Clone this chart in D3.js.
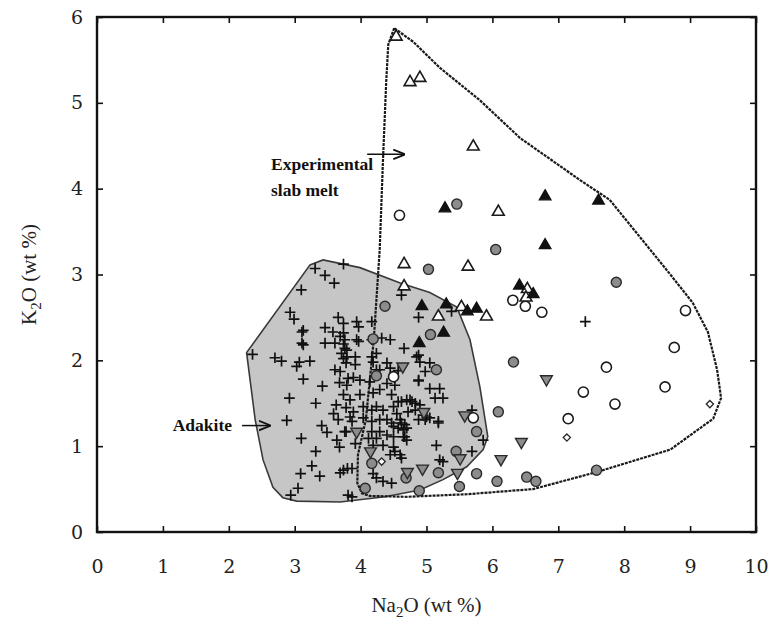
<!DOCTYPE html>
<html>
<head>
<meta charset="utf-8">
<script src="https://cdn.jsdelivr.net/npm/d3@7"></script>
<style>
  body { margin: 0; background: #fff; }
  text { font-family: "Liberation Serif", "DejaVu Serif", serif; }
</style>
</head>
<body>
<script>
// Screen dimensions.
const WIDTH = 772;
const HEIGHT = 622;
const margin = {top: 17, right: 16, bottom: 90, left: 97};

// Axis ticks
const xTicks = [0, 1, 2, 3, 4, 5, 6, 7, 8, 9, 10];
const yTicks = [0, 1, 2, 3, 4, 5, 6];

// Field outlines [Na2O, K2O]
const adakiteOutline = [[3.23,3.11],[3.43,3.17],[3.99,3.08],[4.60,2.90],[5.05,2.79],[5.46,2.62],[5.66,2.24],[5.81,1.69],[5.93,1.11],[5.86,0.96],[5.61,0.76],[5.25,0.61],[4.90,0.49],[4.37,0.41],[3.69,0.35],[3.03,0.36],[2.82,0.40],[2.67,0.52],[2.52,0.84],[2.40,1.31],[2.27,2.09]];
const slabMeltOutline = [[4.51,5.87],[4.42,5.68],[4.39,5.27],[4.34,4.34],[4.29,3.29],[4.20,2.24],[4.08,1.31],[3.96,0.90],[3.95,0.57],[4.02,0.45],[4.14,0.42],[4.70,0.41],[5.61,0.44],[6.62,0.50],[7.59,0.70],[8.70,0.96],[9.35,1.32],[9.47,1.56],[9.41,1.89],[9.27,2.33],[9.04,2.67],[8.70,3.00],[7.78,3.87],[7.33,4.10],[6.42,4.59],[5.81,5.03],[5.20,5.41],[4.80,5.71]];

// Experimental melts
const openTriangles = [[4.54,5.77],[4.75,5.24],[4.90,5.29],[5.71,4.49],[6.09,3.73],[4.66,3.12],[5.63,3.09],[4.66,2.86],[5.53,2.62],[5.18,2.51],[5.91,2.51],[6.53,2.83],[6.51,2.73]];
const blackTriangles = [[5.28,3.77],[6.80,3.91],[6.80,3.34],[6.41,2.87],[6.62,2.77],[4.93,2.63],[5.30,2.65],[5.62,2.57],[5.76,2.60],[7.61,3.86],[5.26,2.32],[4.89,2.20]];
const grayCircles = [[5.46,3.82],[6.05,3.29],[5.03,3.06],[4.37,2.63],[5.06,2.30],[4.19,2.25],[5.15,1.89],[6.32,1.98],[6.09,1.40],[5.76,1.17],[5.45,0.94],[5.18,0.69],[4.69,0.63],[5.76,0.68],[6.07,0.59],[5.50,0.53],[6.52,0.64],[6.66,0.59],[4.89,0.48],[7.58,0.72],[7.88,2.91],[4.24,1.82],[4.17,0.80],[4.07,0.51]];
const openCircles = [[4.59,3.69],[6.31,2.70],[6.50,2.63],[6.75,2.56],[7.38,1.63],[7.15,1.32],[5.71,1.33],[8.93,2.58],[8.76,2.15],[7.73,1.92],[8.62,1.69],[7.86,1.49],[4.50,1.81]];
const grayDownTriangles = [[4.64,1.93],[6.82,1.78],[5.58,1.36],[6.44,1.05],[6.13,0.85],[5.51,0.86],[4.94,0.74],[4.71,0.70],[5.47,0.69],[4.96,1.40],[3.94,1.17],[4.15,0.94]];
const openDiamonds = [[7.13,1.10],[9.30,1.49],[4.32,0.82]];

// Adakites
const adakites = [
  [3.31,3.07],[3.46,2.99],[3.60,2.90],[3.10,2.82],[3.74,3.12],[2.93,2.56],[2.99,2.48],[3.13,2.35],[3.11,2.33],[3.11,2.20],
  [3.13,2.18],[3.66,2.50],[3.74,2.43],[3.46,2.38],[3.58,2.33],[3.69,2.28],[3.46,2.20],[3.61,2.20],[3.74,2.19],[3.71,2.08],
  [3.79,2.12],[2.36,2.07],[2.70,2.03],[2.80,1.99],[3.07,1.98],[3.03,1.93],[3.23,1.99],[3.61,1.89],[3.69,1.87],[3.78,1.97],
  [3.13,1.78],[3.42,1.70],[3.68,1.74],[2.92,1.56],[3.32,1.50],[3.63,1.48],[3.59,1.38],[3.66,1.31],[3.78,1.45],[3.78,1.17],
  [2.88,1.30],[3.41,1.24],[3.49,1.16],[3.64,1.07],[3.68,0.99],[3.10,1.09],[3.32,0.94],[3.26,0.77],[3.38,0.65],[3.09,0.68],
  [3.69,0.69],[3.80,0.74],[3.05,0.51],[2.94,0.43],[3.81,0.43],[3.76,2.24],[3.94,2.24],[3.76,2.14],[3.79,2.04],[3.81,1.79],
  [3.94,2.45],[4.17,2.45],[4.17,2.24],[3.87,0.41],[4.62,2.76],[3.97,2.39],[3.74,2.32],[3.97,2.22],[4.32,2.26],[4.45,2.24],
  [4.88,2.06],[3.74,2.02],[3.92,2.04],[3.92,1.95],[4.17,2.04],[4.24,2.08],[4.19,1.98],[4.40,1.97],[4.24,1.89],[4.29,1.89],
  [4.45,1.91],[4.57,1.88],[5.38,2.57],[4.88,2.50],[4.66,2.14],[4.85,2.04],[4.90,1.98],[5.05,1.97],[4.98,1.87],[4.88,1.77],
  [5.05,1.67],[5.13,1.56],[5.25,1.56],[4.75,1.54],[4.83,1.50],[5.00,1.34],[5.18,1.29],[5.15,1.01],[5.69,1.42],[5.86,1.07],
  [5.69,0.94],[5.25,0.82],[4.67,1.11],[7.41,2.45],[3.89,1.80],[3.99,1.77],[3.79,1.71],[4.14,1.75],[4.40,1.73],[4.52,1.71],
  [4.88,1.76],[5.20,1.67],[3.74,1.60],[3.84,1.54],[3.99,1.60],[4.19,1.62],[4.29,1.66],[4.47,1.60],[4.57,1.52],[4.62,1.52],
  [4.70,1.54],[4.78,1.52],[4.90,1.48],[3.89,1.40],[4.04,1.46],[4.17,1.42],[4.24,1.46],[4.34,1.42],[4.50,1.46],[4.55,1.38],
  [4.72,1.40],[4.83,1.42],[4.95,1.36],[5.05,1.33],[3.84,1.34],[3.87,1.29],[4.04,1.33],[4.17,1.29],[4.29,1.31],[4.40,1.31],
  [4.47,1.27],[4.60,1.31],[4.62,1.27],[4.67,1.25],[4.88,1.31],[4.98,1.31],[5.18,1.27],[3.76,1.17],[4.29,1.17],[4.50,1.23],
  [4.57,1.21],[4.65,1.19],[4.70,1.21],[4.17,1.17],[4.12,1.09],[4.24,1.09],[4.40,1.13],[4.50,1.11],[4.65,1.11],[4.70,1.07],
  [3.92,1.03],[4.19,1.01],[4.34,1.01],[4.50,0.99],[4.52,0.94],[4.60,0.90],[4.45,0.90],[4.62,0.86],[3.87,0.74],[3.74,0.72],
  [4.19,0.68],[4.24,0.63],[4.34,0.59],[4.47,0.57],[5.20,0.84]
];

// SVG
const svg = d3.select("body").append("svg").attr("width", WIDTH).attr("height", HEIGHT);
const plotW = WIDTH - margin.left - margin.right;
const plotH = HEIGHT - margin.top - margin.bottom;
const g = svg.append("g").attr("transform", `translate(${margin.left},${margin.top})`);

const x = d3.scaleLinear().domain([0, 10]).range([0, plotW]);
const y = d3.scaleLinear().domain([0, 6]).range([plotH, 0]);

// Fields
const line = d3.line().x(d => x(d[0])).y(d => y(d[1])).curve(d3.curveLinearClosed);

g.append("path")
    .attr("d", line(adakiteOutline))
    .attr("fill", "#c6c6c6")
    .attr("stroke", "#3a3a3a")
    .attr("stroke-width", 1.6);

g.append("path")
    .attr("d", line(slabMeltOutline))
    .attr("fill", "none")
    .attr("stroke", "#1a1a1a")
    .attr("stroke-width", 2.2)
    .attr("stroke-dasharray", "3,1");

// Symbols
const plus = {
    draw(ctx, size) {
        const r = Math.sqrt(size) / 2;
        ctx.moveTo(-r, 0); ctx.lineTo(r, 0);
        ctx.moveTo(0, -r); ctx.lineTo(0, r);
    }
};

function drawPoints(data, type, size, fill, stroke, sw, rot) {
    const sym = d3.symbol().type(type).size(size);
    g.append("g").selectAll("path").data(data).enter().append("path")
        .attr("d", sym)
        .attr("transform", d => `translate(${x(d[0])},${y(d[1])})` + (rot ? ` rotate(${rot})` : ""))
        .attr("fill", fill)
        .attr("stroke", stroke)
        .attr("stroke-width", sw);
}

drawPoints(adakites, plus, 115, "none", "#111", 1.7, 0);
drawPoints(grayCircles, d3.symbolCircle, 80, "#8c8c8c", "#2a2a2a", 1.4, 0);
drawPoints(openCircles, d3.symbolCircle, 80, "#fff", "#1a1a1a", 1.6, 0);
drawPoints(grayDownTriangles, d3.symbolTriangle, 60, "#8c8c8c", "#2a2a2a", 1.4, 180);
drawPoints(openTriangles, d3.symbolTriangle, 60, "#fff", "#1a1a1a", 1.6, 0);
drawPoints(blackTriangles, d3.symbolTriangle, 60, "#111", "#111", 1.2, 0);
drawPoints(openDiamonds, d3.symbolSquare, 26, "#fff", "#2a2a2a", 1.3, 45);

// Axes (ticks inward on all sides)
const axisStyle = (sel) => {
    sel.select(".domain").remove();
    sel.selectAll(".tick line").attr("stroke", "#111").attr("stroke-width", 1.6);
    sel.selectAll(".tick text").attr("font-size", 19).attr("fill", "#222")
        .style("font-family", '"DejaVu Serif", serif');
};

g.append("g").attr("transform", `translate(0,${plotH})`)
    .call(d3.axisBottom(x).tickValues(xTicks).tickFormat(d3.format("d")).tickSizeInner(-6).tickSizeOuter(0).tickPadding(28))
    .call(axisStyle);
g.append("g")
    .call(d3.axisLeft(y).tickValues(yTicks).tickFormat(d3.format("d")).tickSizeInner(-6).tickSizeOuter(0).tickPadding(14))
    .call(axisStyle);
g.append("g")
    .call(d3.axisTop(x).tickValues(xTicks).tickSizeInner(-6).tickSizeOuter(0).tickFormat(""))
    .call(axisStyle);
g.append("g").attr("transform", `translate(${plotW},0)`)
    .call(d3.axisRight(y).tickValues(yTicks).tickSizeInner(-6).tickSizeOuter(0).tickFormat(""))
    .call(axisStyle);

// Frame
g.append("rect")
    .attr("width", plotW).attr("height", plotH)
    .attr("fill", "none").attr("stroke", "#111").attr("stroke-width", 2.4);

// Axis titles
const xt = svg.append("text")
    .attr("x", margin.left + plotW / 2).attr("y", 612)
    .attr("text-anchor", "middle").attr("font-size", 21).attr("fill", "#222");
xt.append("tspan").text("Na");
xt.append("tspan").attr("font-size", 15).attr("dy", 5).text("2");
xt.append("tspan").attr("dy", -5).text("O (wt %)");

const yt = svg.append("text")
    .attr("transform", `translate(36,${margin.top + plotH / 2}) rotate(-90)`)
    .attr("text-anchor", "middle").attr("font-size", 21).attr("fill", "#222");
yt.append("tspan").text("K");
yt.append("tspan").attr("font-size", 15).attr("dy", 5).text("2");
yt.append("tspan").attr("dy", -5).text("O (wt %)");

// Annotations
svg.append("defs").append("marker")
    .attr("id", "head").attr("viewBox", "0 0 10 10").attr("refX", 9).attr("refY", 5)
    .attr("markerWidth", 8).attr("markerHeight", 8).attr("orient", "auto")
    .append("path").attr("d", "M0,1 L10,5 L0,9").attr("fill", "none").attr("stroke", "#111").attr("stroke-width", 1.5);

const note = svg.append("g").attr("font-weight", "bold").attr("font-size", 17.5).attr("fill", "#111");
note.append("text").attr("x", 271).attr("y", 170).text("Experimental");
note.append("text").attr("x", 271).attr("y", 196).text("slab melt");
note.append("text").attr("x", 232).attr("y", 431).attr("text-anchor", "end").text("Adakite");

svg.append("line").attr("x1", x(4.1) + margin.left).attr("x2", x(4.66) + margin.left)
    .attr("y1", y(4.4) + margin.top).attr("y2", y(4.4) + margin.top)
    .attr("stroke", "#111").attr("stroke-width", 1.5).attr("marker-end", "url(#head)");
svg.append("line").attr("x1", x(2.2) + margin.left).attr("x2", x(2.62) + margin.left)
    .attr("y1", y(1.24) + margin.top).attr("y2", y(1.24) + margin.top)
    .attr("stroke", "#111").attr("stroke-width", 1.5).attr("marker-end", "url(#head)");
</script>
</body>
</html>
